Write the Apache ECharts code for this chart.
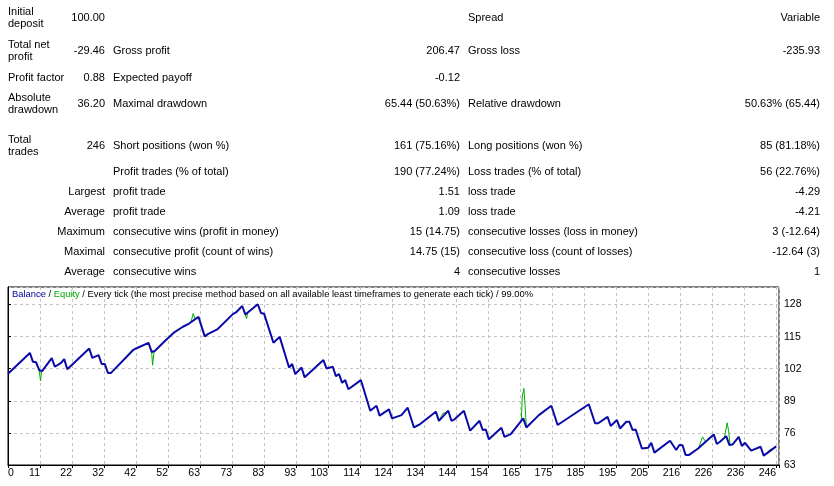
<!DOCTYPE html>
<html><head><meta charset="utf-8">
<script src="https://cdn.jsdelivr.net/npm/echarts@6/dist/echarts.min.js"></script>
<style>
html,body{margin:0;padding:0;background:#fff;}
#chart{position:absolute;left:0;top:0;width:834px;height:486px;}
#stats{position:absolute;left:0;top:0;width:834px;height:283px;font-family:'Liberation Sans',Arial,sans-serif;font-size:11px;color:#000;}
.c{position:absolute;white-space:nowrap;line-height:12.5px;}
</style></head><body>
<div id="chart"></div><div id="stats"></div>
<script>
// ---------- statistics table ----------
const statRowY = [17, 50, 77, 103, 145, 171, 191, 211, 231, 251, 271];
const statColX = [8, 105, 113, 460, 468, 820];
const statColAlign = ['left', 'right', 'left', 'right', 'left', 'right'];
const statRows = [
  ['Initial\ndeposit', '100.00', '', '', 'Spread', 'Variable'],
  ['Total net\nprofit', '-29.46', 'Gross profit', '206.47', 'Gross loss', '-235.93'],
  ['Profit factor', '0.88', 'Expected payoff', '-0.12', '', ''],
  ['Absolute\ndrawdown', '36.20', 'Maximal drawdown', '65.44 (50.63%)', 'Relative drawdown', '50.63% (65.44)'],
  ['Total\ntrades', '246', 'Short positions (won %)', '161 (75.16%)', 'Long positions (won %)', '85 (81.18%)'],
  ['', '', 'Profit trades (% of total)', '190 (77.24%)', 'Loss trades (% of total)', '56 (22.76%)'],
  ['', 'Largest', 'profit trade', '1.51', 'loss trade', '-4.29'],
  ['', 'Average', 'profit trade', '1.09', 'loss trade', '-4.21'],
  ['', 'Maximum', 'consecutive wins (profit in money)', '15 (14.75)', 'consecutive losses (loss in money)', '3 (-12.64)'],
  ['', 'Maximal', 'consecutive profit (count of wins)', '14.75 (15)', 'consecutive loss (count of losses)', '-12.64 (3)'],
  ['', 'Average', 'consecutive wins', '4', 'consecutive losses', '1']
];

// ---------- chart data ----------
const chartTitleParts = ['Balance', 'Equity', 'Every tick (the most precise method based on all available least timeframes to generate each tick)', '99.00%'];
const xTickStep = 10.25;
const xTickLabels = ['0','11','22','32','42','52','63','73','83','93','103','114','124','134','144','154','165','175','185','195','205','216','226','236','246'];
const xMax = 246.9;
const yMin = 63, yMax = 135.1, yStep = 13;

const balanceTrade = [0,7,8,9,10,11,14,15,17,18,19,26,27,29,30,31,32,33,40,41,45,46,47,50,53,56,58,61,63,64,67,72,73,75,76,80,81,82,85,87,90,91,92,94,95,101,102,104,105,106,107,108,109,113,116,118,119,122,123,126,128,130,132,137,138,141,142,143,146,148,151,152,153,154,158,159,161,165,166,170,174,176,186,188,189,192,193,195,196,198,199,200,201,203,205,206,207,212,214,215,216,217,218,221,226,227,228,230,231,232,234,235,236,238,241,242,246];
const balanceValue = [100.0,108.4,104.8,104.6,101.4,101.1,106.3,102.8,104.4,105.9,101.8,110.2,106.4,107.5,103.9,103.9,100.3,100.3,109.5,110.2,112.5,108.8,109.2,112.9,116.5,119.0,120.3,123.0,115.1,116.0,117.9,124.1,124.8,127.4,124.0,128.1,124.6,124.3,112.5,114.9,102.5,103.9,99.8,102.5,98.5,105.5,102.1,102.8,99.0,99.8,96.3,97.4,93.7,97.4,85.0,87.0,83.0,85.5,81.9,83.2,86.2,78.2,79.6,84.6,80.9,85.0,80.9,81.5,85.0,76.9,80.9,77.2,77.4,73.4,78.1,74.4,75.5,81.9,78.2,83.2,87.0,79.2,87.6,79.9,79.9,82.5,78.8,81.2,77.8,80.5,80.5,77.2,77.4,69.7,70.0,72.0,68.0,72.8,69.1,71.1,71.0,67.0,67.0,69.7,75.4,71.5,72.4,74.7,71.1,71.3,74.4,70.7,72.0,68.8,70.4,66.8,70.54];

// equity excursions away from the balance line (elsewhere equity == balance)
const equitySpikeTrade = [
  [10, 10.4, 10.8],
  [19, 19.3, 19.6],
  [46, 46.3, 46.8],
  [58.6, 59.3, 60.0],
  [76, 76.4, 76.8],
  [109, 109.3, 109.6],
  [138, 139.3, 140.3, 141],
  [164.4, 164.7, 165.2, 165.5, 166],
  [221.2, 222.4, 223.4],
  [229.4, 230.3, 230.8, 231.2],
  [242, 242.3, 242.6],
  [243.3, 244.0, 244.8]
];
const equitySpikeValue = [
  [101.4, 97.1, 101.2],
  [101.8, 101.0, 102.5],
  [108.8, 103.4, 109.1],
  [120.8, 124.4, 121.9],
  [124.0, 122.3, 124.8],
  [93.7, 93.0, 94.3],
  [80.9, 84.0, 84.2, 85.0],
  [81.3, 90.9, 94.0, 89.0, 78.2],
  [69.9, 74.4, 72.4],
  [74.0, 80.1, 76.5, 71.2],
  [66.8, 66.1, 67.1],
  [68.0, 69.3, 69.4]
];

// ---------- build table ----------
const statsEl = document.getElementById('stats');
statRows.forEach((row, r) => {
  row.forEach((txt, c) => {
    if (!txt) return;
    const lines = txt.split('\n');
    const d = document.createElement('div');
    d.className = 'c';
    d.style.top = (statRowY[r] - lines.length * 12.5 / 2) + 'px';
    if (statColAlign[c] === 'left') { d.style.left = statColX[c] + 'px'; }
    else { d.style.right = (834 - statColX[c]) + 'px'; d.style.textAlign = 'right'; }
    lines.forEach((ln, i) => { if (i) d.appendChild(document.createElement('br')); d.appendChild(document.createTextNode(ln)); });
    statsEl.appendChild(d);
  });
});

// ---------- build chart ----------
const FONT = "'Liberation Sans', Arial, sans-serif";
const AXFONT = "'Liberation Sans Narrow', 'Liberation Sans', Arial, sans-serif";
const HFS = 9.4;
const chart = echarts.init(document.getElementById('chart'), null, {renderer: 'canvas'});
const series = [];
equitySpikeTrade.forEach((ts, i) => {
  series.push({
    type: 'line', name: 'Equity', showSymbol: false, animation: false, z: 2,
    lineStyle: {color: '#00b000', width: 1},
    data: ts.map((t, j) => [t, equitySpikeValue[i][j]])
  });
});
series.push({
  type: 'line', name: 'Balance', showSymbol: false, animation: false, z: 3,
  lineStyle: {color: '#0a0aa8', width: 2},
  data: balanceTrade.map((t, i) => [t, balanceValue[i]])
});

chart.setOption({
  backgroundColor: '#fff',
  animation: false,
  title: {
    left: 12, top: 290, padding: 0,
    text: '{b|' + chartTitleParts[0] + '} / {e|' + chartTitleParts[1] + '} / ' + chartTitleParts[2] + ' / ' + chartTitleParts[3],
    textStyle: {
      fontSize: HFS, fontFamily: FONT, fontWeight: 'normal', color: '#000',
      rich: {
        b: {fontSize: HFS, fontFamily: FONT, color: '#0000a0'},
        e: {fontSize: HFS, fontFamily: FONT, color: '#00a800'}
      }
    }
  },
  grid: {left: 8, top: 287, right: 55, bottom: 21, show: true, borderColor: '#000', borderWidth: 1, backgroundColor: 'transparent'},
  xAxis: {
    type: 'value', min: 0, max: xMax, interval: xTickStep,
    axisLine: {show: true, lineStyle: {color: '#000', width: 1}},
    axisTick: {show: true, length: 3, lineStyle: {color: '#000'}},
    splitLine: {show: true, lineStyle: {color: '#c4c4c4', type: [3, 3], width: 1}},
    axisLabel: {
      color: '#000', fontSize: 10.5, fontFamily: AXFONT, margin: 3, align: 'right', alignMinLabel: 'left',
      showMaxLabel: true,
      formatter: function (v) {
        const k = Math.round(v / xTickStep);
        if (Math.abs(v - k * xTickStep) > 0.01) return '';
        return xTickLabels[k] || '';
      }
    }
  },
  yAxis: {
    type: 'value', position: 'right', min: yMin, max: yMax, interval: yStep,
    axisLine: {show: true, lineStyle: {color: '#000', width: 1}},
    axisTick: {show: true, length: 3, lineStyle: {color: '#000'}},
    splitLine: {show: true, lineStyle: {color: '#c4c4c4', type: [3, 3], width: 1}},
    axisLabel: {color: '#000', fontSize: 10.5, fontFamily: AXFONT, margin: 5, showMaxLabel: false}
  },
  series: series
});
</script>
</body></html>
